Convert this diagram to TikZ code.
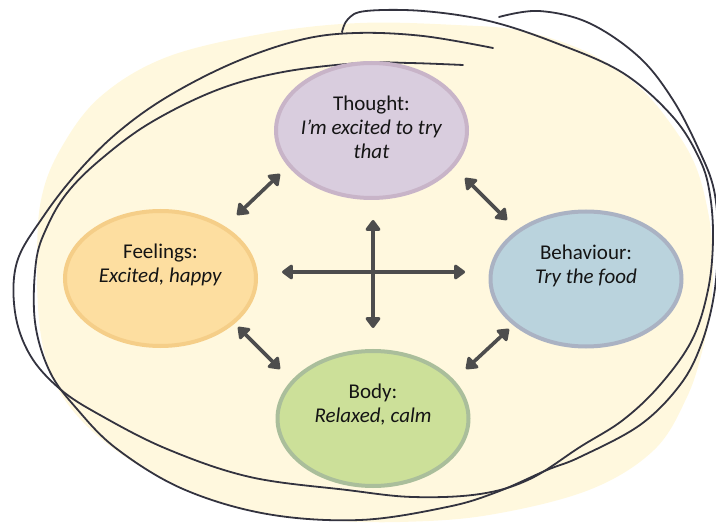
\documentclass[tikz,border=0pt]{standalone}
\usepackage{fontspec}
\setmainfont{Carlito}
\usetikzlibrary{arrows.meta,shapes.geometric}

\definecolor{blobfill}{HTML}{FFF8DE}
\definecolor{thoughtfill}{HTML}{D9CDDE}
\definecolor{thoughtline}{HTML}{C8B4C8}
\definecolor{feelfill}{HTML}{FDDEA0}
\definecolor{feelline}{HTML}{F5CE88}
\definecolor{behavefill}{HTML}{BAD3DD}
\definecolor{behaveline}{HTML}{AAB2C3}
\definecolor{bodyfill}{HTML}{CCE099}
\definecolor{bodyline}{HTML}{AABE9B}
\definecolor{arrowgray}{HTML}{4D4D4D}
\definecolor{scribblecol}{HTML}{33333F}
\definecolor{ink}{HTML}{141414}

\begin{document}
\begin{tikzpicture}[x=1pt,y=-1pt,
  bubble/.style={ellipse, line width=4pt, minimum width=191pt,
    minimum height=135pt, inner sep=0pt},
  txt/.style={font=\fontsize{21}{24}\selectfont, align=center,
    text=ink, inner sep=0pt},
  arr/.style={{Triangle[width=17pt,length=12pt,round]}-{Triangle[width=17pt,length=12pt,round]},
    line width=3.6pt, draw=arrowgray},
  scribble/.style={draw=scribblecol, line width=1.8pt, line cap=round,
    line join=round}]

\useasboundingbox (0,0) rectangle (716,524);
\clip (0,0) rectangle (716,524);

% pale background patch
\fill[blobfill] plot[smooth cycle, tension=0.6] coordinates {
  (360,23) (456,25) (523,31) (589,53) (639,87) (673,127) (696,167)
  (709,217) (713,262) (711,305) (703,348) (687,397) (654,450)
  (589,490) (489,515) (400,522) (320,520) (260,513) (200,495)
  (133,462) (83,422) (53,379) (40,329) (37,262) (41,200) (60,150)
  (100,97) (167,57) (267,33)};

% hand-drawn loops
\draw[scribble] plot[smooth, tension=0.6] coordinates {
  (493,48) (423,36) (356,33) (300,40) (233,63) (167,97) (117,133)
  (77,173) (43,217) (17,262) (15,312) (30,355) (60,389) (100,415)
  (167,449) (250,477) (347,490) (413,497) (480,494) (530,479)
  (580,447) (623,420) (660,385) (692,340) (708,290) (713,240)
  (710,195) (700,160) (673,117) (623,73) (556,43) (489,21) (423,11)
  (366,11) (348,19) (342,32)};
\draw[scribble] plot[smooth, tension=0.6] coordinates {
  (463,65) (410,63) (360,63) (283,72) (217,90) (150,123) (100,160)
  (67,193) (47,227) (36,262) (35,322) (50,372) (77,409) (117,449)
  (183,489) (267,514) (360,520) (447,507) (497,492) (547,470)
  (580,457) (640,425) (680,385) (701,345) (714,295) (718,240)
  (714,190) (699,150) (673,100) (639,57) (589,23) (539,11) (499,17)};

% the four bubbles
\node[bubble, draw=thoughtline, fill=thoughtfill] (thought) at (371.5,130.5) {};
\node[bubble, draw=feelline, fill=feelfill] (feelings) at (160.5,278.5) {};
\node[bubble, draw=behaveline, fill=behavefill] (behaviour) at (586,279) {};
\node[bubble, draw=bodyline, fill=bodyfill] (body) at (373,418.5) {};

\node[txt] (thought-txt) at ([yshift=3pt]thought.center)
  {Thought:\\\textit{I'm excited to try}\\\textit{that}};
\node[txt] (feelings-txt) at ([yshift=3pt]feelings.center)
  {Feelings:\\\textit{Excited, happy}\\\mbox{}};
\node[txt] (behaviour-txt) at ([yshift=3pt]behaviour.center)
  {Behaviour:\\\textit{Try the food}\\\mbox{}};
\node[txt] (body-txt) at ([yshift=3pt]body.center)
  {Body:\\\textit{Relaxed, calm}\\\mbox{}};

% arrow end points
\coordinate (tf-a) at (280,174);
\coordinate (tf-b) at (237,215);
\coordinate (tb-a) at (465,178);
\coordinate (tb-b) at (507,220);
\coordinate (fb-a) at (238,327);
\coordinate (fb-b) at (280,369);
\coordinate (bb-a) at (509,329);
\coordinate (bb-b) at (466,369);
\coordinate (h-l) at (282,272);
\coordinate (h-r) at (465,272);
\coordinate (v-t) at (373,220);
\coordinate (v-b) at (373,328);

\draw[arr] (tf-a) -- (tf-b);
\draw[arr] (tb-a) -- (tb-b);
\draw[arr] (fb-a) -- (fb-b);
\draw[arr] (bb-a) -- (bb-b);
\draw[arr] (h-l) -- (h-r);
\draw[arr] (v-t) -- (v-b);
\end{tikzpicture}
\end{document}
